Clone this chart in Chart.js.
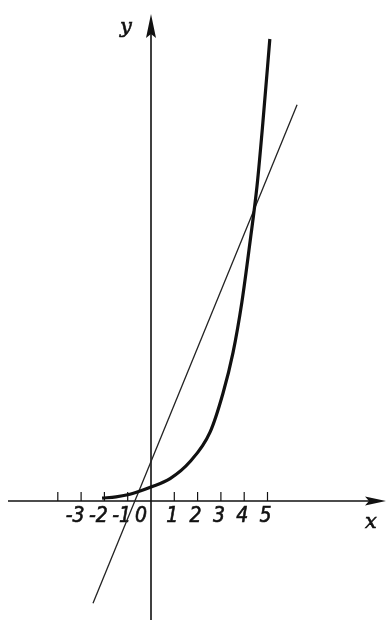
<!DOCTYPE html>
<html>
<head>
<meta charset="utf-8">
<script src="https://cdn.jsdelivr.net/npm/chart.js@4/dist/chart.umd.min.js"></script>
<style>
  html, body { margin: 0; padding: 0; background: #fff; }
  canvas { display: block; }
</style>
</head>
<body>
<canvas id="graph" width="387" height="620"></canvas>
<script>
// curve (thick line)
const curveX = [-2.1, -1.5, -1, -0.5, 0, 0.82, 1.67, 2.53, 3.09, 3.52, 3.9, 4.25, 4.55, 4.8, 5.1];
const curveY = [0.2, 0.3, 0.45, 0.7, 1.0, 1.6, 2.8, 4.9, 7.7, 10.6, 14.2, 18.5, 22.5, 27, 33];
// straight thin line, two end points
const lineX = [-2.49, 6.27];
const lineY = [-7.3, 28.3];
// ticks on the x axis and their labels
const tickValues = [-4, -3, -2, -1, 1, 2, 3, 4, 5];
const tickLabels = ['-3', '-2', '-1', '0', '1', '2', '3', '4', '5'];
const labelValues = [-3, -2, -1, 0, 1, 2, 3, 4, 5];

function toPoints(xs, ys) {
    let pts = new Array();
    for (let i = 0; i < xs.length; i++) {
        pts.push({ x: xs[i], y: ys[i] });
    }
    return pts;
}

// draws the axes, arrows, ticks and letters like the textbook figure
const axesPlugin = {
    id: 'axes',
    beforeDatasetsDraw(chart) {
        const ctx = chart.ctx;
        const sx = chart.scales.x;
        const sy = chart.scales.y;
        const ox = sx.getPixelForValue(0);
        const oy = sy.getPixelForValue(0);
        ctx.save();
        ctx.strokeStyle = '#111';
        ctx.fillStyle = '#111';
        ctx.lineWidth = 1.6;

        // x axis
        ctx.beginPath();
        ctx.moveTo(8, oy);
        ctx.lineTo(376, oy);
        ctx.stroke();
        ctx.beginPath();
        ctx.moveTo(386, oy);
        ctx.lineTo(365, oy - 4.5);
        ctx.lineTo(369, oy);
        ctx.lineTo(365, oy + 4.5);
        ctx.closePath();
        ctx.fill();

        // y axis
        ctx.beginPath();
        ctx.moveTo(ox, 620);
        ctx.lineTo(ox, 25);
        ctx.stroke();
        ctx.beginPath();
        ctx.moveTo(ox, 14);
        ctx.lineTo(ox - 5, 38);
        ctx.lineTo(ox, 34);
        ctx.lineTo(ox + 5, 38);
        ctx.closePath();
        ctx.fill();

        // tick marks
        ctx.lineWidth = 1.2;
        tickValues.forEach(function (v) {
            const px = sx.getPixelForValue(v);
            ctx.beginPath();
            ctx.moveTo(px, oy - 9);
            ctx.lineTo(px, oy);
            ctx.stroke();
        });

        // tick labels
        ctx.font = 'italic 21px "Liberation Sans Narrow", "DejaVu Sans Condensed", sans-serif';
        ctx.textAlign = 'center';
        ctx.textBaseline = 'alphabetic';
        ctx.lineWidth = 0.6;
        labelValues.forEach(function (v, i) {
            let px = sx.getPixelForValue(v) - 2;
            if (v === 0) {
                px = ox - 10;
            } else if (v < 0) {
                px -= 4;
            }
            ctx.fillText(tickLabels[i], px, oy + 21);
            ctx.strokeText(tickLabels[i], px, oy + 21);
        });

        // axis letters
        ctx.font = 'italic 21px "DejaVu Serif", serif';
        ctx.fillText('y', 126, 33);
        ctx.strokeText('y', 126, 33);
        ctx.fillText('x', 371, 528);
        ctx.strokeText('x', 371, 528);
        ctx.restore();
    }
};

new Chart('graph', {
    type: 'line',
    plugins: [axesPlugin],
    options: {
        responsive: false,
        animation: false,
        layout: { padding: 0 },
        plugins: {
            legend: { display: false },
            tooltip: { enabled: false }
        },
        scales: {
            x: { type: 'linear', min: -6.481, max: 10.129, display: false },
            y: { type: 'linear', min: -8.5, max: 35.786, display: false }
        },
        elements: {
            point: { radius: 0 }
        }
    },
    data: {
        datasets: [{
            label: 'curve',
            data: toPoints(curveX, curveY),
            borderColor: '#111',
            borderWidth: 3.2,
            cubicInterpolationMode: 'monotone',
            fill: false
        }, {
            label: 'line',
            data: toPoints(lineX, lineY),
            borderColor: '#222',
            borderWidth: 1.3,
            fill: false
        }]
    }
});
</script>
</body>
</html>
